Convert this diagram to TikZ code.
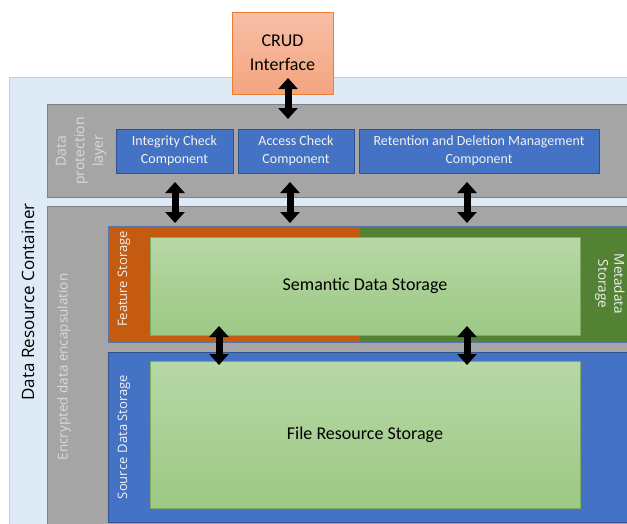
\documentclass[tikz,border=0pt]{standalone}
\usepackage{fontspec}
\setmainfont{Carlito}
\newfontfamily\labelfont{Open Sans}
\usetikzlibrary{arrows.meta}
\definecolor{ColContainer}{RGB}{222,235,247}
\definecolor{ColContainerEdge}{RGB}{200,206,214}
\definecolor{ColLayer}{RGB}{165,165,165}
\definecolor{ColLayerEdge}{RGB}{128,128,128}
\definecolor{ColBlue}{RGB}{68,114,196}
\definecolor{ColBlueEdge}{RGB}{47,82,143}
\definecolor{ColOrange}{RGB}{197,90,17}
\definecolor{ColGreen}{RGB}{84,130,53}
\definecolor{ColLightTop}{RGB}{183,216,166}
\definecolor{ColLightBot}{RGB}{157,200,132}
\definecolor{ColLightEdge}{RGB}{125,172,98}
\definecolor{ColCrudTop}{RGB}{247,190,166}
\definecolor{ColCrudBot}{RGB}{244,165,128}
\definecolor{ColCrudEdge}{RGB}{237,125,49}
\definecolor{ColPale}{RGB}{218,218,218}

\begin{document}
\begin{tikzpicture}[
  x=1pt, y=-1pt,
  line join=round,
  comp/.style={draw=ColBlueEdge, fill=ColBlue, line width=0.7pt, inner sep=0pt,
    text=white!95!black, align=center, font=\fontsize{14}{18}\selectfont},
  store/.style={draw=ColLightEdge, line width=0.7pt, inner sep=0pt,
    top color=ColLightTop, bottom color=ColLightBot,
    minimum width=430pt, font=\fontsize{18}{22}\selectfont},
  sidelabel/.style={rotate=90, align=center, text=ColPale, inner sep=0pt,
    font=\labelfont\fontsize{13.5}{17.5}\selectfont},
  biarrow/.style={{Triangle[length=11pt,width=19pt]}-{Triangle[length=11pt,width=19pt]},
    line width=7pt, black}
]
  \clip (0,0) rectangle (627,523);
  \fill[white] (0,0) rectangle (627,523);

  % Container and layers
  \draw[fill=ColContainer, draw=ColContainerEdge, line width=1pt] (9,77) rectangle (640,540);
  \draw[fill=ColLayer, draw=ColLayerEdge, line width=0.8pt] (47,104) rectangle (640,197);
  \draw[fill=ColLayer, draw=ColLayerEdge, line width=0.8pt] (47,206) rectangle (640,540);
  \node[rotate=90, inner sep=0pt, font=\labelfont\fontsize{17}{20}\selectfont] (container) at (28,302) {Data Resource Container};
  \node[sidelabel, font=\labelfont\fontsize{14}{18.5}\selectfont] (protect) at (81,151) {Data\\protection\\layer};
  \node[sidelabel] (encaps) at (64,367) {Encrypted data encapsulation};

  % Storage areas
  \draw[fill=ColOrange, draw=ColBlueEdge!80, line width=0.6pt] (108,226) rectangle (359,342);
  \draw[fill=ColGreen, draw=ColBlueEdge!80, line width=0.6pt] (359,226) rectangle (640,342);
  \draw[fill=ColBlue, draw=ColBlueEdge, line width=0.6pt] (108,352) rectangle (640,522);
  \node[sidelabel, text=white!95!black, font=\labelfont\fontsize{13}{16}\selectfont] (feature) at (124,279) {Feature Storage};
  \node[sidelabel, text=white!95!black, font=\labelfont\fontsize{13}{16}\selectfont] (source) at (124,437) {Source\,\,Data Storage};
  \node[sidelabel, rotate=-180, text=white!95!black, font=\labelfont\fontsize{13.5}{16}\selectfont] (meta) at (610,284) {Metadata\\Storage};

  \node[store, minimum height=98pt] (semantic) at (365,286) {Semantic Data Storage};
  \node[store, minimum height=147pt] (file) at (365,434.5) {File Resource Storage};

  % Protection components
  \node[comp, minimum width=117pt, minimum height=44pt] (integrity) at (174.5,151) {Integrity Check\\Component};
  \node[comp, minimum width=116pt, minimum height=44pt] (access) at (296,151) {Access Check\\Component};
  \node[comp, minimum width=240pt, minimum height=44pt] (retention) at (479,151) {Retention and Deletion Management\\Component};

  % Interface
  \node[draw=ColCrudEdge, line width=0.7pt, top color=ColCrudTop, bottom color=ColCrudBot,
    minimum width=101pt, minimum height=82pt, inner sep=0pt, align=center,
    font=\fontsize{18}{24}\selectfont] (crud) at (282.5,53) {CRUD\\Interface};

  % Arrows
  \coordinate (c1) at (288,78);  \coordinate (c2) at (288,119);
  \coordinate (i1) at (175,182); \coordinate (i2) at (175,223);
  \coordinate (a1) at (290,182); \coordinate (a2) at (290,223);
  \coordinate (r1) at (467,182); \coordinate (r2) at (467,223);
  \coordinate (s1) at (219,326); \coordinate (s2) at (219,365);
  \coordinate (t1) at (467,326); \coordinate (t2) at (467,365);
  \foreach \p/\q in {c1/c2, i1/i2, a1/a2, r1/r2, s1/s2, t1/t2}
    \draw[biarrow] (\p) -- (\q);
\end{tikzpicture}
\end{document}
